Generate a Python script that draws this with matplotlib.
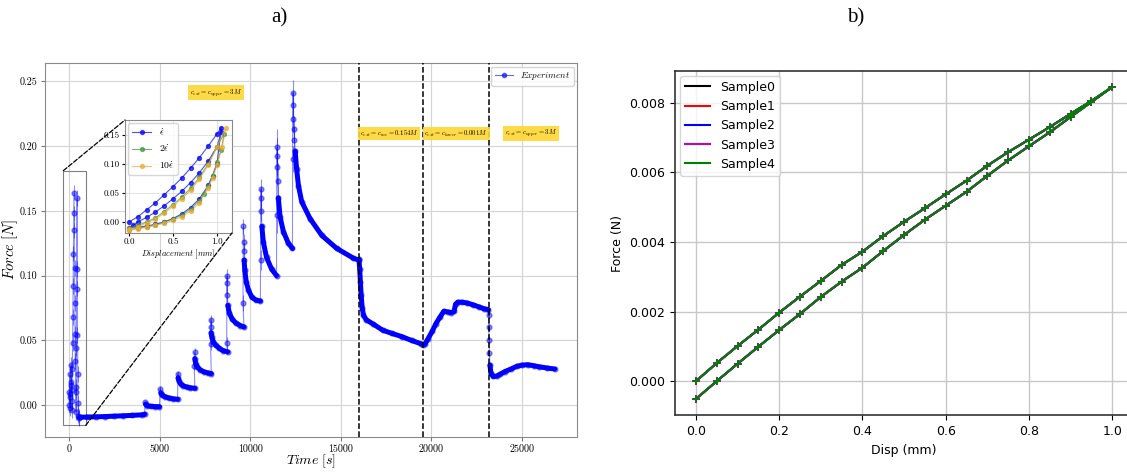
import matplotlib
matplotlib.use("Agg")
import matplotlib.pyplot as plt
import numpy as np
from matplotlib.patches import Rectangle, ConnectionPatch

plt.rcParams['mathtext.fontset'] = 'cm'

# ---- a) force vs time, one block per loading step ----
exp_time = [
    [0, 15, 30, 45, 60, 75, 90, 105, 120, 135, 150, 165, 180, 195, 210, 225, 240, 255, 270,
     285, 300, 315, 330, 345, 360, 375, 390, 405, 420, 435, 450, 465, 480, 495, 510, 525, 540],
    [600, 1000, 1500, 2000, 2500, 3000, 3500, 4000, 4170],
    [4190, 4220, 4300, 4500, 4750, 4990],
    [5020, 5060, 5150, 5300, 5500, 5750, 5990],
    [6000, 6020, 6070, 6160, 6300, 6500, 6700, 6940],
    [6910, 6925, 6940, 6990, 7080, 7250, 7450, 7650, 7850],
    [7810, 7820, 7830, 7840, 7880, 7960, 8100, 8300, 8500, 8750],
    [8700, 8710, 8720, 8735, 8760, 8850, 9000, 9200, 9450, 9650],
    [9600, 9620, 9630, 9640, 9660, 9700, 9780, 9900, 10080, 10300, 10560],
    [10570, 10585, 10595, 10610, 10640, 10720, 10900, 11180, 11450],
    [11455, 11465, 11475, 11490, 11510, 11550, 11650, 11830, 12100, 12330],
    [12335, 12345, 12360, 12380, 12410, 12440, 12480, 12560, 12660, 12840, 13300, 13950,
     14770, 15690, 15980],
    [16000, 16040, 16080, 16120, 16180, 16250, 16400, 16800, 17300, 17800, 18360, 18900,
     19410, 19560],
    [19650, 19800, 20040, 20250, 20470, 20680, 20890, 21100, 21250, 21330, 21450, 21700,
     21940, 22300, 22600, 22900, 23140],
    [23160, 23170, 23180, 23200, 23230, 23280, 23400, 23600, 23800, 24050, 24400, 24700,
     25000, 25320, 25650, 25950, 26400, 26800],
]
exp_force = [
    [0.000, 0.010, 0.024, 0.009, -0.002, 0.006, 0.018, 0.031, 0.016, 0.003, -0.004, 0.012,
     0.028, 0.048, 0.068, 0.092, 0.117, 0.148, 0.164, 0.135, 0.106, 0.079, 0.055, 0.034,
     0.014, -0.005, 0.010, 0.044, 0.090, 0.160, 0.105, 0.054, 0.024, 0.002, -0.008, -0.010,
     -0.009],
    [-0.0092, -0.0091, -0.0089, -0.0087, -0.0084, -0.0081, -0.0078, -0.0074, -0.0069],
    [0.0025, 0.0008, -0.0002, -0.0008, -0.0010, -0.0011],
    [0.0125, 0.0095, 0.0078, 0.0066, 0.0057, 0.0050, 0.0046],
    [0.0245, 0.0212, 0.0186, 0.0165, 0.0150, 0.0141, 0.0135, 0.0131],
    [0.030, 0.041, 0.036, 0.032, 0.0295, 0.0272, 0.0258, 0.0250, 0.0245],
    [0.047, 0.066, 0.060, 0.056, 0.0525, 0.049, 0.0462, 0.0438, 0.0422, 0.0412],
    [0.048, 0.100, 0.094, 0.085, 0.077, 0.071, 0.0665, 0.0635, 0.0615, 0.0605],
    [0.079, 0.138, 0.126, 0.119, 0.112, 0.104, 0.095, 0.089, 0.0835, 0.0812, 0.0805],
    [0.112, 0.1665, 0.160, 0.150, 0.138, 0.126, 0.114, 0.105, 0.100],
    [0.147, 0.199, 0.192, 0.184, 0.173, 0.160, 0.145, 0.134, 0.125, 0.121],
    [0.190, 0.241, 0.232, 0.221, 0.213, 0.205, 0.196, 0.182, 0.1695, 0.157, 0.144, 0.131,
     0.121, 0.1135, 0.112],
    [0.1125, 0.105, 0.095, 0.085, 0.075, 0.0695, 0.066, 0.0625, 0.058, 0.0555, 0.053, 0.050,
     0.0475, 0.0468],
    [0.0475, 0.051, 0.057, 0.063, 0.068, 0.0725, 0.072, 0.0715, 0.0725, 0.078, 0.0795,
     0.0795, 0.079, 0.0775, 0.076, 0.0745, 0.0738],
    [0.070, 0.060, 0.050, 0.040, 0.031, 0.025, 0.0222, 0.0225, 0.024, 0.026, 0.028, 0.030,
     0.031, 0.0313, 0.0305, 0.0297, 0.0287, 0.028],
]
# number of sparse points (loading spike) at start of each block
exp_sparse = [37, 0, 1, 1, 1, 2, 3, 4, 4, 4, 5, 6, 0, 0, 4]
# error bar of the spike points of each block
exp_peak_err = [0.006, 0.001, 0.001, 0.002, 0.002, 0.003, 0.004, 0.005, 0.006, 0.008, 0.014,
                0.010, 0.002, 0.002, 0.003]
tail_err = 0.0008

switch_times = [16000, 19560, 23150]
conc_labels = [r'$c_{ext} = c_{upper} = 3M$', r'$c_{ext} = c_{inc} = 0.154M$',
               r'$c_{ext} = c_{lower} = 0.001M$', r'$c_{ext} = c_{upper} = 3M$']
conc_x = [8110, 17660, 21360, 25500]
conc_y = [0.241, 0.2095, 0.2095, 0.2095]

# ---- inset: force vs displacement for the three rates ----
rate_labels = [r'$\dot{\epsilon}$', r'$2\dot{\epsilon}$', r'$10\dot{\epsilon}$']
rate_colors = ['blue', '#3a9a3a', '#f0a830']
ins_disp = [
    [0.0, 0.1, 0.2, 0.3, 0.4, 0.5, 0.6, 0.7, 0.8, 0.9, 1.0, 1.05,
     1.0, 0.95, 0.9, 0.8, 0.7, 0.6, 0.5, 0.4, 0.3, 0.2, 0.1, 0.0,
     0.05, 0.1, 0.2, 0.3, 0.4, 0.5, 0.6, 0.7, 0.8, 0.9, 1.0, 1.05],
    [0.0, 0.1, 0.2, 0.3, 0.4, 0.5, 0.6, 0.7, 0.8, 0.9, 1.0, 1.08,
     1.05, 1.0, 0.95, 0.9, 0.85, 0.8, 0.7, 0.6, 0.5, 0.4, 0.3, 0.2, 0.1, 0.0],
    [0.0, 0.1, 0.2, 0.3, 0.4, 0.5, 0.6, 0.7, 0.8, 0.9, 1.0, 1.1,
     1.06, 1.0, 0.95, 0.9, 0.8, 0.7, 0.6, 0.5, 0.4, 0.3, 0.2, 0.1, 0.0],
]
ins_force = [
    [0.0, 0.009, 0.021, 0.033, 0.047, 0.061, 0.076, 0.093, 0.111, 0.131, 0.152, 0.163,
     0.100, 0.080, 0.063, 0.040, 0.025, 0.014, 0.006, 0.0, -0.004, -0.007, -0.009, -0.010,
     -0.006, 0.0, 0.008, 0.017, 0.028, 0.040, 0.053, 0.068, 0.085, 0.105, 0.130, 0.155],
    [-0.010, -0.006, 0.0, 0.007, 0.018, 0.030, 0.043, 0.058, 0.077, 0.100, 0.130, 0.152,
     0.125, 0.103, 0.080, 0.062, 0.048, 0.037, 0.022, 0.012, 0.005, 0.0, -0.005, -0.008,
     -0.011, -0.013],
    [-0.012, -0.008, -0.002, 0.005, 0.015, 0.027, 0.040, 0.055, 0.074, 0.098, 0.130, 0.162,
     0.130, 0.098, 0.076, 0.058, 0.033, 0.019, 0.009, 0.003, -0.002, -0.006, -0.009, -0.012,
     -0.014],
]

# ---- b) five samples ----
sample_names = ['Sample0', 'Sample1', 'Sample2', 'Sample3', 'Sample4']
sample_colors = ['black', 'red', 'blue', 'm', 'green']
disp_mm = [0.0, 0.05, 0.1, 0.15, 0.2, 0.25, 0.3, 0.35, 0.4, 0.45, 0.5, 0.55, 0.6, 0.65,
           0.7, 0.75, 0.8, 0.85, 0.9, 0.95, 1.0]
force_load = [0.0, 0.00052, 0.00101, 0.00148, 0.00197, 0.00243, 0.00288, 0.00334, 0.00372,
              0.00417, 0.00458, 0.00497, 0.00537, 0.00576, 0.00619, 0.00658, 0.00694,
              0.0073, 0.00768, 0.00805, 0.00845]
force_unload = [-0.00051, 0.0, 0.0005, 0.00099, 0.00147, 0.00193, 0.00242, 0.00286, 0.00326,
                0.00374, 0.0042, 0.00464, 0.00504, 0.00544, 0.0059, 0.00634, 0.00675,
                0.00715, 0.00759, 0.00802, 0.00845]

fig = plt.figure(figsize=(11.27, 4.74), dpi=100)

# ================= panel a =================
ax = fig.add_axes([0.0399, 0.078, 0.4725, 0.789])
all_t = np.concatenate(exp_time)
all_f = np.concatenate(exp_force)
all_e = np.concatenate([[pe] * n + [tail_err] * (len(t) - n)
                        for t, n, pe in zip(exp_time, exp_sparse, exp_peak_err)])
ax.errorbar(all_t, all_f, yerr=all_e, fmt='-o', color='blue', ms=3.5, lw=0.8, alpha=0.45,
            ecolor='blue', elinewidth=0.8, zorder=3)
for t, f, n in zip(exp_time, exp_force, exp_sparse):
    if n < len(t) - 1:
        ax.plot(t[n:], f[n:], color='blue', lw=3.6,
                solid_capstyle='round', solid_joinstyle='round', zorder=4)
ax.plot([], [], '-o', color='blue', ms=3, lw=0.8, alpha=0.6, label='$Experiment$')

for xs in switch_times:
    ax.axvline(xs, color='k', ls='--', lw=1.1, zorder=5)
for lab, x, y in zip(conc_labels, conc_x, conc_y):
    ax.text(x, y, lab, fontsize=4.8, ha='center', va='center', zorder=6,
            bbox=dict(boxstyle='square,pad=0.25', fc='#ffd633', ec='none', alpha=0.9))

ax.set_xlim(-1330, 28060)
ax.set_ylim(-0.0245, 0.264)
ax.set_xticks([0, 5000, 10000, 15000, 20000, 25000])
ax.set_yticks([0.0, 0.05, 0.10, 0.15, 0.20, 0.25])
ax.set_yticklabels(['0.00', '0.05', '0.10', '0.15', '0.20', '0.25'])
ax.tick_params(labelsize=7.2, labelfontfamily='cmr10', length=3, pad=2.5, color='#777777')
ax.grid(True, color='#d4d4d4', lw=0.8)
for s in ax.spines.values():
    s.set_color('#8a8a8a')
ax.set_xlabel(r'$Time\ [s]$', fontsize=10)
ax.set_ylabel(r'$Force\ [N]$', fontsize=10.5)
ax.xaxis.set_label_coords(0.5, -0.042)
ax.yaxis.set_label_coords(-0.047, 0.5)
ax.legend(loc='upper right', fontsize=6.5, handlelength=2, borderaxespad=0.4)

# zoom box and connectors
ax.add_patch(Rectangle((-315, -0.0155), 1235, 0.1965, fill=False, ec='#808080', lw=0.8,
                       zorder=2))

# inset
axins = fig.add_axes([0.1109, 0.5084, 0.0949, 0.2384])
for d, f, c, lab in zip(ins_disp, ins_force, rate_colors, rate_labels):
    axins.plot(d, f, '-o', color=c, ms=2.8, lw=0.8, alpha=0.7, label=lab)
axins.set_xlim(-0.045, 1.17)
axins.set_ylim(-0.019, 0.176)
axins.set_xticks([0.0, 0.5, 1.0])
axins.set_yticks([0.0, 0.05, 0.10, 0.15])
axins.set_yticklabels(['0.00', '0.05', '0.10', '0.15'])
axins.tick_params(labelsize=6.5, labelfontfamily='cmr10', length=2, pad=1.5)
axins.grid(True, color='#dddddd', lw=0.6)
for s in axins.spines.values():
    s.set_color('#8a8a8a')
axins.set_xlabel(r'$Displacement\ [mm]$', fontsize=6, labelpad=1)
axins.legend(loc='upper left', fontsize=7, handlelength=2, borderaxespad=0.3,
             labelspacing=0.6)

for xyA, xyB in [((-315, 0.181), (0, 1)), ((920, -0.0155), (1, 0))]:
    con = ConnectionPatch(xyA=xyA, coordsA=ax.transData, xyB=xyB, coordsB=axins.transAxes,
                          ls='--', color='k', lw=0.9)
    fig.add_artist(con)

# ================= panel b =================
ax2 = fig.add_axes([0.599, 0.1238, 0.4064, 0.7268])
loop_d = disp_mm + disp_mm[::-1]
loop_f = force_load + force_unload[::-1]
for name, c in zip(sample_names, sample_colors):
    ax2.plot(loop_d, loop_f, color=c, lw=1.5, label=name)
    ax2.plot(loop_d, loop_f, ls='none', marker='P', ms=5.5 if c == 'm' else 4.5, color=c,
             mew=0)
ax2.set_xlim(-0.05, 1.05)
ax2.set_ylim(-0.00098, 0.008914)
ax2.set_xticks([0.0, 0.2, 0.4, 0.6, 0.8, 1.0])
ax2.set_yticks([0.0, 0.002, 0.004, 0.006, 0.008])
ax2.tick_params(labelsize=9)
ax2.grid(True, color='#c8c8c8', lw=1)
for s in ax2.spines.values():
    s.set_color('#333333')
    s.set_linewidth(1.2)
ax2.set_xlabel('Disp (mm)', fontsize=9)
ax2.set_ylabel('Force (N)', fontsize=9)
ax2.legend(loc='upper left', fontsize=9, handlelength=2, borderaxespad=0.4)

fig.text(0.248, 0.962, 'a)', family='Liberation Serif', fontsize=15, ha='center',
         va='center')
fig.text(0.759, 0.962, 'b)', family='Liberation Serif', fontsize=15, ha='center',
         va='center')

fig.savefig('out.png', dpi=100)
